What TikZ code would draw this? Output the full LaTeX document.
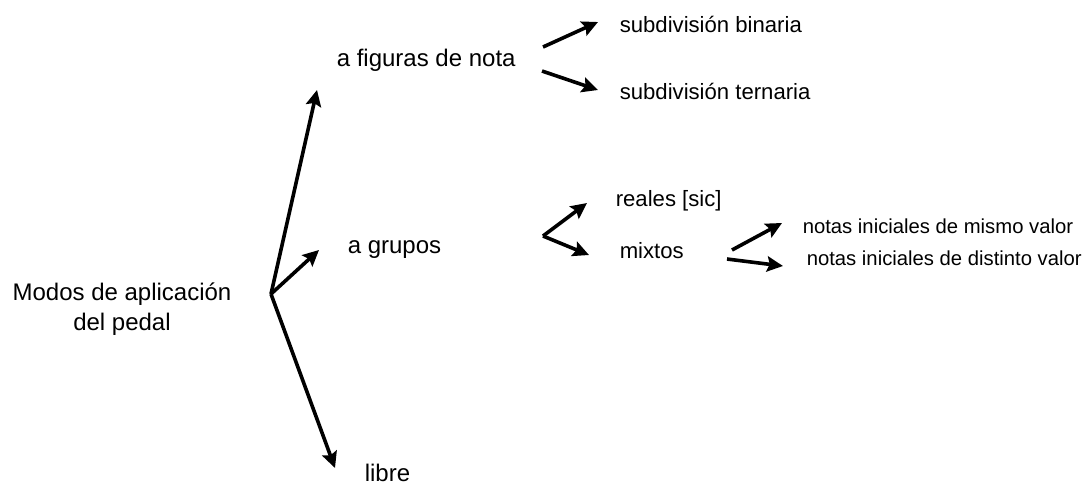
\documentclass[tikz,border=0pt]{standalone}
\usepackage{fontspec}
\setmainfont{Liberation Sans}
\usetikzlibrary{arrows.meta}
\tikzset{>={Stealth[length=12pt,width=11.5pt,inset=2pt]}}

\begin{document}
\begin{tikzpicture}[x=0.75pt,y=-0.75pt,line width=2.7pt,
    every node/.style={inner sep=0},
    grande/.style={font=\fontsize{18}{22.5}\selectfont},
    media/.style={font=\fontsize{16.6}{20}\selectfont},
    chica/.style={font=\fontsize{15.2}{18}\selectfont}]
  \useasboundingbox (0,0) rectangle (1083,487);
  % textos
  \node[grande,align=center] (modos) at (122,309) {Modos de aplicación\\del pedal};
  \node[grande,anchor=base west] (figuras) at (335,66) {a figuras de nota};
  \node[grande,anchor=base west] (grupos) at (346,253) {a grupos};
  \node[grande,anchor=base west] (libre) at (363,481) {libre};
  \node[media,anchor=base west] (binaria) at (618,32) {subdivisión binaria};
  \node[media,anchor=base west] (ternaria) at (618,99) {subdivisión ternaria};
  \node[media,anchor=base west] (reales) at (614,206) {reales [sic]};
  \node[media,anchor=base west] (mixtos) at (618,258) {mixtos};
  \node[chica,anchor=base west] (mismo) at (801,233) {notas iniciales de mismo valor};
  \node[chica,anchor=base west] (distinto) at (805,265) {notas iniciales de distinto valor};
  % extremos de las flechas
  \coordinate (raiz) at (271,294);
  \coordinate (afiguras) at (317,90);
  \coordinate (agrupos) at (319,250);
  \coordinate (alibre) at (335,468);
  \coordinate (sfiguras) at (543,47);
  \coordinate (abinaria) at (598,22);
  \coordinate (sfiguras2) at (542,71);
  \coordinate (aternaria) at (598,90);
  \coordinate (sgrupos) at (543,236);
  \coordinate (areales) at (587,203);
  \coordinate (amixtos) at (589,255);
  \coordinate (smixtos) at (732,250);
  \coordinate (amismo) at (782,223);
  \coordinate (smixtos2) at (727,259);
  \coordinate (adistinto) at (783,266);
  % flechas
  \draw[->] (raiz) -- (afiguras);
  \draw[->] (raiz) -- (agrupos);
  \draw[->] (raiz) -- (alibre);
  \draw[->] (sfiguras) -- (abinaria);
  \draw[->] (sfiguras2) -- (aternaria);
  \draw[->] (sgrupos) -- (areales);
  \draw[->] (sgrupos) -- (amixtos);
  \draw[->] (smixtos) -- (amismo);
  \draw[->] (smixtos2) -- (adistinto);
\end{tikzpicture}
\end{document}
